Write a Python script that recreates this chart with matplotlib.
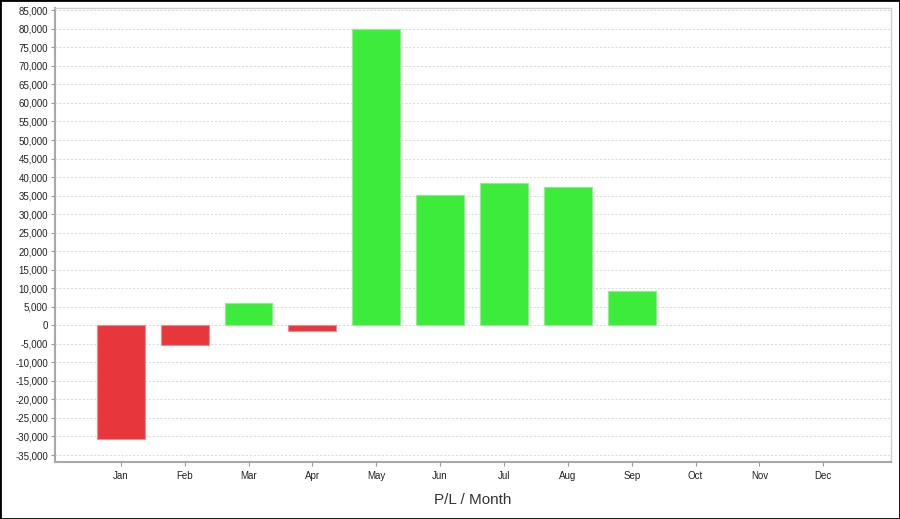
import matplotlib
matplotlib.use("Agg")
import matplotlib.pyplot as plt
from matplotlib.patches import Rectangle
from matplotlib.ticker import FuncFormatter, MultipleLocator

months = ["Jan", "Feb", "Mar", "Apr", "May", "Jun",
          "Jul", "Aug", "Sep", "Oct", "Nov", "Dec"]
pl_values = [-30800, -5200, 6000, -1500, 80000, 35200,
             38400, 37200, 9200, 0, 0, 0]

RED = "#e8373c"
GREEN = "#3deb3b"

plt.rcParams["font.family"] = ["Liberation Sans", "DejaVu Sans"]

fig = plt.figure(figsize=(9.0, 5.19), dpi=100)
ax = fig.add_axes([55 / 900, 1 - 461.7 / 519, (891 - 55) / 900, (461.7 - 8.3) / 519])

x = list(range(len(months)))
colors = [GREEN if v >= 0 else RED for v in pl_values]
edges = ["#8ef08c" if v >= 0 else "#f08a8d" for v in pl_values]
widths = [0.8 if v != 0 else 0 for v in pl_values]
ax.bar(x, pl_values, width=0.75, color=colors, edgecolor=edges,
       linewidth=widths, zorder=3)

ax.set_xlim(-1.03, 12.06)
ax.set_ylim(-36800, 85540)
ax.yaxis.set_major_locator(MultipleLocator(5000))
ax.yaxis.set_major_formatter(FuncFormatter(lambda v, p: f"{int(v):,}"))
ax.set_xticks(x)
ax.set_xticklabels(months)

ax.grid(axis="y", color="#d8d8d8", linestyle=(0, (2, 2)), linewidth=0.7, zorder=0)
ax.tick_params(axis="both", labelsize=7, colors="#9a9a9a", labelcolor="#222222",
               length=3, width=0.8)
ax.tick_params(axis="x", pad=4)
ax.tick_params(axis="y", pad=2)

for side in ["left", "bottom"]:
    ax.spines[side].set_color("#a8a8a8")
    ax.spines[side].set_linewidth(1.5)
for side in ["top", "right"]:
    ax.spines[side].set_color("#cfcfcf")
    ax.spines[side].set_linewidth(1.0)

ax.set_xlabel("P/L / Month", fontsize=11, color="#333333", labelpad=8)

# outer frame around the whole picture
fig.patches.append(Rectangle((0, 0), 1, 1, transform=fig.transFigure,
                             fill=False, edgecolor="black", linewidth=2.0))

fig.savefig("out.png", dpi=100)
